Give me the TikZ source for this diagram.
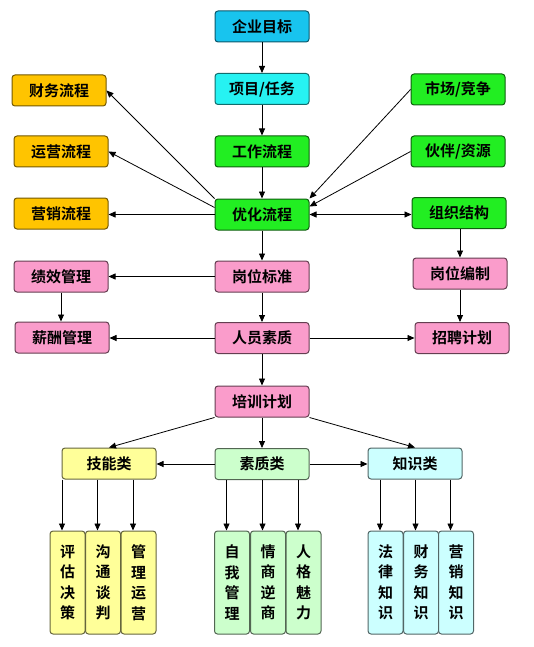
\documentclass[tikz,border=0pt]{standalone}
\usepackage{fontspec}
\newfontfamily\cjk{Noto Sans CJK SC}[BoldFont={Noto Sans CJK SC Bold}]
\usetikzlibrary{arrows.meta}

\definecolor{goalc}{HTML}{18C4EE}
\definecolor{projc}{HTML}{26F2F2}
\definecolor{orgc}{HTML}{FFC400}
\definecolor{grnc}{HTML}{22EE22}
\definecolor{pinkc}{HTML}{FA9CCB}
\definecolor{ylwc}{HTML}{FFFF99}
\definecolor{lgrnc}{HTML}{CCFFCC}
\definecolor{lcyac}{HTML}{CCFFFF}

\begin{document}
\begin{tikzpicture}[
  x=1pt, y=-1pt,
  every node/.style = {font=\cjk\bfseries\fontsize{15}{18}\selectfont},
  box/.style   = {draw, rounded corners=3pt, line width=1pt,
                  minimum width=94pt, minimum height=31pt, inner sep=0pt},
  goal/.style  = {box, fill=goalc, draw=goalc!45!black},
  proj/.style  = {box, fill=projc, draw=projc!45!black},
  flow/.style  = {box, fill=orgc, draw=orgc!45!black},
  grn/.style   = {box, fill=grnc, draw=grnc!40!black},
  hr/.style    = {box, fill=pinkc, draw=pinkc!40!black},
  cat/.style   = {box, draw=#1!40!black, fill=#1},
  leaf/.style  = {box, draw=#1!40!black, fill=#1, minimum width=35pt,
                  minimum height=103pt, align=center,
                  font=\cjk\bfseries\fontsize{15}{20.5}\selectfont},
  arr/.style   = {-{Triangle[length=7pt,width=6pt]}, line width=0.8pt},
  darr/.style  = {{Triangle[length=7pt,width=6pt]}-{Triangle[length=7pt,width=6pt]}, line width=0.8pt}
]
\useasboundingbox (0,0) rectangle (533,647);

% centre column
\node[goal] (goal)  at (262, 26.5)  {企业目标};
\node[proj] (proj)  at (262, 89)    {项目/任务};
\node[grn]  (work)  at (262, 151.5) {工作流程};
\node[grn]  (opt)   at (262, 214.5) {优化流程};
\node[hr]   (post)  at (262, 276.5) {岗位标准};
\node[hr]   (staff) at (262, 338)   {人员素质};
\node[hr]   (train) at (262, 401.5) {培训计划};

% left column
\node[flow] (fin)  at (59, 90.5)  {财务流程};
\node[flow] (ops)  at (61, 151.5) {运营流程};
\node[flow] (mkt)  at (61, 213.5) {营销流程};
\node[hr]   (perf) at (61, 276.5) {绩效管理};
\node[hr]   (pay)  at (62, 337.5) {薪酬管理};

% right column
\node[grn] (market)  at (458, 89.5)  {市场/竞争};
\node[grn] (partner) at (458, 151.5) {伙伴/资源};
\node[grn] (org)     at (459, 213)   {组织结构};
\node[hr]  (quota)   at (460, 273.5) {岗位编制};
\node[hr]  (hire)    at (462, 338)   {招聘计划};

% training categories
\node[cat=ylwc]  (skill) at (109, 463.5) {技能类};
\node[cat=lgrnc] (qual)  at (262, 464)   {素质类};
\node[cat=lcyac] (know)  at (415, 463.5) {知识类};

\node[leaf=ylwc]  (s1) at (67.5,  582.5) {评\\估\\决\\策};
\node[leaf=ylwc]  (s2) at (103,   582.5) {沟\\通\\谈\\判};
\node[leaf=ylwc]  (s3) at (138.5, 582.5) {管\\理\\运\\营};
\node[leaf=lgrnc] (q1) at (232,   582.5) {自\\我\\管\\理};
\node[leaf=lgrnc] (q2) at (268,   582.5) {情\\商\\逆\\商};
\node[leaf=lgrnc] (q3) at (303.5, 582.5) {人\\格\\魅\\力};
\node[leaf=lcyac] (k1) at (385.5, 582.5) {法\\律\\知\\识};
\node[leaf=lcyac] (k2) at (421,   582.5) {财\\务\\知\\识};
\node[leaf=lcyac] (k3) at (456,   582.5) {营\\销\\知\\识};

\draw[arr] (goal) -- (proj);
\draw[arr] (proj) -- (work);
\draw[arr] (work) -- (opt);
\draw[arr] (opt.north west) -- (fin.east);
\draw[arr] ([yshift=7pt]opt.west) -- (ops.east);
\draw[arr] (opt.west) -- (opt.west -| mkt.east);
\draw[arr] (market.west) -- (opt.north east);
\draw[arr] (partner.west) -- ([yshift=8pt]opt.east);
\draw[darr] (opt.east) -- (opt.east -| org.west);
\draw[arr] (org.south -| quota.north) -- (quota.north);
\draw[arr] (opt) -- (post);
\draw[arr] (post.west) -- (post.west -| perf.east);
\draw[arr] (perf) -- (perf.south |- pay.north);
\draw[arr] (post) -- (staff);
\draw[arr] (staff.west) -- (staff.west -| pay.east);
\draw[arr] (staff.east) -- (staff.east -| hire.west);
\draw[arr] (quota.south) -- (quota.south |- hire.north);
\draw[arr] (staff) -- (train);
\draw[arr] (train.south west) -- (skill.north);
\draw[arr] (train) -- (qual);
\draw[arr] (train.south east) -- (know.north);
\draw[arr] (qual.west) -- (qual.west -| skill.east);
\draw[arr] (qual.east) -- (qual.east -| know.west);

\foreach \c/\a/\b/\d in {skill/s1/s2/s3, qual/q1/q2/q3, know/k1/k2/k3}
  \foreach \l in {\a,\b,\d}
    \draw[arr] ([xshift=-5.5pt]\l.north |- \c.south) -- ([xshift=-5.5pt]\l.north);

\end{tikzpicture}
\end{document}
